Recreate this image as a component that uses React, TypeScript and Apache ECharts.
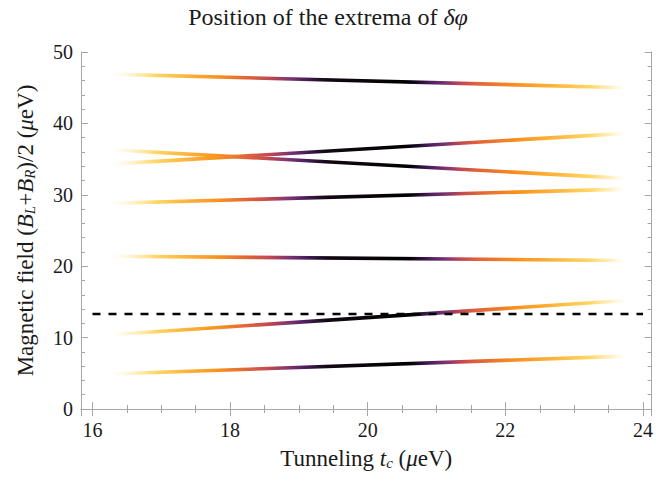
import React, { useEffect, useRef } from "react";
import * as echarts from "echarts";

// ---- data ----
const tcStart = 16.25; // tunneling where every curve begins (μeV)
const tcEnd = 23.75; // tunneling where every curve ends (μeV)
const fieldAtStart = [46.9, 36.3, 34.3, 28.8, 21.4, 10.4, 4.9];
const fieldAtEnd = [45.0, 32.3, 38.6, 30.8, 20.8, 15.2, 7.4];
const dashedField = 13.3;
const dashedRange = [16, 24];

const FONT = "Liberation Serif";
const TXT = "#1a1a1a";
const FRAME = "#a6a6a6";

const gradientStops = [
  [0, "rgba(255,240,190,0)"],
  [0.05, "rgba(255,225,140,0.55)"],
  [0.09, "#ffd666"],
  [0.14, "#fdb840"],
  [0.21, "#f8921e"],
  [0.27, "#e0603a"],
  [0.31, "#c04850"],
  [0.35, "#7a3272"],
  [0.38, "#4a1e5c"],
  [0.42, "#120812"],
  [0.58, "#000000"],
  [0.62, "#4a1e5c"],
  [0.65, "#7a3272"],
  [0.68, "#c04850"],
  [0.71, "#e0603a"],
  [0.79, "#f8921e"],
  [0.87, "#fdb840"],
  [0.93, "#ffd666"],
  [0.97, "rgba(255,225,140,0.55)"],
  [1, "rgba(255,240,190,0)"],
];

export default function App() {
  const ref = useRef<HTMLDivElement>(null);
  useEffect(() => {
    if (!ref.current) return;
    const chart = echarts.init(ref.current, undefined, { renderer: "svg" });

    const grad = () =>
      new echarts.graphic.LinearGradient(
        0,
        0,
        1,
        0,
        gradientStops.map(([o, c]) => ({ offset: o as number, color: c as string }))
      );

    const curveSeries = fieldAtStart.map((y0, i) => ({
      type: "line",
      name: "curve" + i,
      data: [
        [tcStart, y0],
        [tcEnd, fieldAtEnd[i]],
      ],
      symbol: "none",
      silent: true,
      lineStyle: { width: 3.6, color: grad(), cap: "butt" },
      z: 3,
    }));

    const tickRich = { n: { fontFamily: FONT, fontSize: 20, color: TXT } };
    const nameRich = {
      i: { fontFamily: FONT, fontSize: 23, fontStyle: "italic", color: TXT },
      s: {
        fontFamily: FONT,
        fontSize: 15,
        fontStyle: "italic",
        color: TXT,
        verticalAlign: "bottom",
        lineHeight: 16,
      },
    };
    const commonX = {
      type: "value",
      min: 15.833,
      max: 24.125,
      splitNumber: 4,
      splitLine: { show: false },
      axisLine: { show: true, lineStyle: { color: FRAME, width: 1 } },
      axisTick: { show: true, inside: true, length: 7, lineStyle: { color: FRAME } },
      minorTick: { show: true, splitNumber: 4, length: 4, lineStyle: { color: FRAME } },
    };
    const commonY = {
      type: "value",
      min: 0,
      max: 50,
      interval: 10,
      splitLine: { show: false },
      axisLine: { show: true, lineStyle: { color: FRAME, width: 1 } },
      axisTick: { show: true, inside: true, length: 7, lineStyle: { color: FRAME } },
      minorTick: { show: true, splitNumber: 5, length: 4, lineStyle: { color: FRAME } },
    };

    chart.setOption({
      animation: false,
      backgroundColor: "#ffffff",
      textStyle: { fontFamily: FONT, color: TXT },
      title: {
        text: "Position of the extrema of {i|δφ}",
        left: "center",
        top: 0,
        textStyle: {
          fontFamily: FONT,
          fontSize: 24,
          fontWeight: "normal",
          color: TXT,
          rich: {
            i: { fontFamily: FONT, fontSize: 24, fontStyle: "italic", color: TXT },
          },
        },
      },
      grid: { left: 81, right: 0, top: 52, bottom: 84, containLabel: false },
      xAxis: [
        {
          ...commonX,
          position: "bottom",
          name: "Tunneling {i|t}{s|c} ({i|μ}eV)",
          nameLocation: "middle",
          nameGap: 38,
          nameTextStyle: { fontFamily: FONT, fontSize: 23, color: TXT, rich: nameRich },
          axisLabel: {
            fontFamily: FONT,
            fontSize: 20,
            color: TXT,
            margin: 11,
            rich: tickRich,
            formatter: (v: number) =>
              Math.abs(v / 2 - Math.round(v / 2)) < 1e-6 ? "{n|" + Math.round(v) + "}" : "",
          },
        },
        {
          ...commonX,
          position: "top",
          axisLabel: { show: false },
        },
      ],
      yAxis: [
        {
          ...commonY,
          position: "left",
          name: "Magnetic field ({i|B}{s|L}+{i|B}{s|R})/2 ({i|μ}eV)",
          nameLocation: "middle",
          nameGap: 44,
          nameTextStyle: { fontFamily: FONT, fontSize: 23, color: TXT, rich: nameRich },
          axisLabel: {
            fontFamily: FONT,
            fontSize: 20,
            color: TXT,
            margin: 8,
            rich: tickRich,
            formatter: (v: number) => "{n|" + Math.round(v) + "}",
          },
        },
        {
          ...commonY,
          position: "right",
          axisLabel: { show: false },
        },
      ],
      series: [
        ...curveSeries,
        {
          type: "line",
          name: "dashed",
          data: [
            [dashedRange[0], dashedField],
            [dashedRange[1], dashedField],
          ],
          symbol: "none",
          silent: true,
          lineStyle: { width: 2.6, color: "#000", type: [8, 8] },
          z: 4,
        },
      ],
    });

    return () => chart.dispose();
  }, []);

  return (
    <div
      ref={ref}
      style={{ position: "absolute", left: 0, top: 0, width: 656, height: 493, background: "#fff" }}
    />
  );
}
